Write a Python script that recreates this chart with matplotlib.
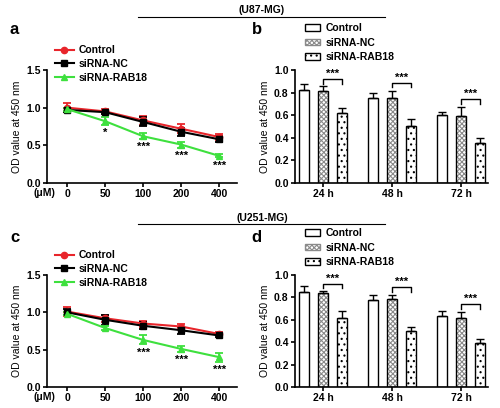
import matplotlib
matplotlib.use('Agg')
import matplotlib.pyplot as plt
import matplotlib.patches as mpatches
from matplotlib.lines import Line2D
import numpy as np

plt.rcParams['font.family'] = ['Liberation Sans', 'DejaVu Sans']
plt.rcParams['font.weight'] = 'bold'
plt.rcParams['font.size'] = 7.5
plt.rcParams['hatch.linewidth'] = 0.8

doses = ['0', '50', '100', '200', '400']
times = ['24 h', '48 h', '72 h']
groups = ['Control', 'siRNA-NC', 'siRNA-RAB18']

# panel a (U87-MG)
a_ctrl = [1.00, 0.95, 0.83, 0.72, 0.61]
a_ctrl_err = [0.06, 0.03, 0.06, 0.06, 0.04]
a_nc = [0.97, 0.94, 0.81, 0.68, 0.58]
a_nc_err = [0.03, 0.02, 0.06, 0.05, 0.04]
a_rab = [0.98, 0.82, 0.62, 0.51, 0.36]
a_rab_err = [0.02, 0.05, 0.04, 0.04, 0.02]
a_stars = ['', '*', '***', '***', '***']

# panel b (U87-MG)
b_vals = [[0.82, 0.75, 0.60], [0.81, 0.75, 0.59], [0.62, 0.50, 0.35]]
b_errs = [[0.06, 0.05, 0.03], [0.05, 0.06, 0.08], [0.04, 0.07, 0.05]]
b_brackets = [0.92, 0.885, 0.743]

# panel c (U251-MG)
c_ctrl = [1.01, 0.92, 0.85, 0.81, 0.71]
c_ctrl_err = [0.06, 0.05, 0.04, 0.04, 0.02]
c_nc = [1.00, 0.90, 0.82, 0.76, 0.69]
c_nc_err = [0.04, 0.07, 0.05, 0.05, 0.02]
c_rab = [0.98, 0.79, 0.63, 0.51, 0.40]
c_rab_err = [0.02, 0.03, 0.06, 0.04, 0.06]
c_stars = ['', '', '***', '***', '***']

# panel d (U251-MG)
d_vals = [[0.85, 0.78, 0.63], [0.84, 0.79, 0.62], [0.62, 0.50, 0.39]]
d_errs = [[0.05, 0.04, 0.05], [0.02, 0.03, 0.05], [0.06, 0.04, 0.04]]
d_brackets = [0.92, 0.89, 0.74]

red = '#e8252b'
green = '#3ee03e'


def style_axis(ax):
    ax.spines['top'].set_visible(False)
    ax.spines['right'].set_visible(False)
    ax.spines['left'].set_linewidth(1.2)
    ax.spines['bottom'].set_linewidth(1.2)
    ax.tick_params(width=1.2, length=3, labelsize=7.5, pad=1.5)


def lineplot(ax, ctrl, ctrl_err, nc, nc_err, rab, rab_err, stars):
    x = np.arange(len(doses))
    series = [(ctrl, ctrl_err, red, 'o'), (nc, nc_err, 'black', 's'),
              (rab, rab_err, green, '^')]
    handles = []
    for (vals, errs, col, mk), name in zip(series, groups):
        ax.errorbar(x, vals, yerr=errs, color=col, marker=mk, ms=4.5,
                    lw=1.5, capsize=3, elinewidth=1.3, capthick=1.3)
        handles.append(Line2D([], [], color=col, marker=mk, ms=4.5, lw=1.5,
                              label=name))
    for i, s in enumerate(stars):
        if s:
            ax.text(x[i], rab[i] - rab_err[i] - 0.04, s, ha='center', va='top',
                    fontsize=8)
    ax.set_xlim(-0.53, 4.47)
    ax.set_ylim(0, 1.5)
    ax.set_yticks([0, 0.5, 1.0, 1.5])
    ax.set_yticklabels(['0.0', '0.5', '1.0', '1.5'])
    ax.set_xticks(x)
    ax.set_xticklabels(doses)
    ax.set_ylabel('OD value at 450 nm', fontsize=7.5, labelpad=3)
    ax.text(0.045, -0.045, '(μM)', transform=ax.transAxes, ha='right',
            va='top', fontsize=7.5)
    style_axis(ax)
    ax.legend(handles=handles, loc='lower left', bbox_to_anchor=(0.02, 0.85),
              frameon=False, fontsize=7.5, handlelength=1.8, labelspacing=0.35,
              borderaxespad=0, handletextpad=0.5)


def barplot(ax, vals, errs, brackets):
    x = np.arange(len(times))
    off = 0.275
    w = 0.15
    hatches = ['', 'xxxxxxx', '...']
    hatch_cols = ['black', '#8a8a8a', 'black']
    for j in range(3):
        pos = x + (j - 1) * off
        # hatch layer, then black outline on top
        ax.bar(pos, vals[j], w, color='white', edgecolor=hatch_cols[j],
               hatch=hatches[j], lw=0)
        ax.bar(pos, vals[j], w, fill=False, edgecolor='black', lw=1.0)
        ax.errorbar(pos, vals[j], yerr=[[0] * 3, errs[j]],
                    fmt='none', ecolor='black', elinewidth=1.0, capsize=3,
                    capthick=1.0)
    for i, yb in enumerate(brackets):
        x0 = x[i]
        x1 = x[i] + off
        ax.plot([x0, x0, x1, x1], [yb - 0.04, yb, yb, yb - 0.04], color='black',
                lw=1.0)
        ax.text((x0 + x1) / 2, yb + 0.005, '***', ha='center', va='bottom',
                fontsize=8)
    ax.set_xlim(-0.41, 2.39)
    ax.set_ylim(0, 1.0)
    ax.set_yticks([0, 0.2, 0.4, 0.6, 0.8, 1.0])
    ax.set_yticklabels(['0.0', '0.2', '0.4', '0.6', '0.8', '1.0'])
    ax.set_xticks(x)
    ax.set_xticklabels(times)
    ax.set_ylabel('OD value at 450 nm', fontsize=7.5, labelpad=3)
    style_axis(ax)
    handles = []
    for j in range(3):
        handles.append(mpatches.Rectangle((0, 0), 1, 1, facecolor='white',
                                          edgecolor=hatch_cols[j] if j == 1 else 'black',
                                          hatch=hatches[j], lw=1.0))
    ax.legend(handles, groups, loc='lower left', bbox_to_anchor=(0.03, 1.03),
              frameon=False, fontsize=7.5, handlelength=1.4, handleheight=0.6,
              labelspacing=0.45, borderaxespad=0, handletextpad=0.6)


fig = plt.figure(figsize=(5, 4.08), dpi=100)

ax_a = fig.add_axes([0.094, 0.5515, 0.38, 0.277])
ax_b = fig.add_axes([0.59, 0.5515, 0.386, 0.277])
ax_c = fig.add_axes([0.094, 0.0515, 0.38, 0.2745])
ax_d = fig.add_axes([0.59, 0.0515, 0.386, 0.2745])

lineplot(ax_a, a_ctrl, a_ctrl_err, a_nc, a_nc_err, a_rab, a_rab_err, a_stars)
barplot(ax_b, b_vals, b_errs, b_brackets)
lineplot(ax_c, c_ctrl, c_ctrl_err, c_nc, c_nc_err, c_rab, c_rab_err, c_stars)
barplot(ax_d, d_vals, d_errs, d_brackets)

# cell line headers
for ytxt, yline, name in [(0.975, 0.958, '(U87-MG)'), (0.465, 0.45, '(U251-MG)')]:
    fig.text(0.524, ytxt, name, ha='center', va='center', fontsize=7.5)
    fig.add_artist(Line2D([0.276, 0.77], [yline, yline], color='black',
                          lw=0.8, transform=fig.transFigure))

# panel letters
for xl, yl, letter in [(0.02, 0.928, 'a'), (0.503, 0.928, 'b'),
                       (0.02, 0.418, 'c'), (0.503, 0.418, 'd')]:
    fig.text(xl, yl, letter, fontsize=12, fontweight='bold', va='center')

fig.savefig('out.png', dpi=100)
